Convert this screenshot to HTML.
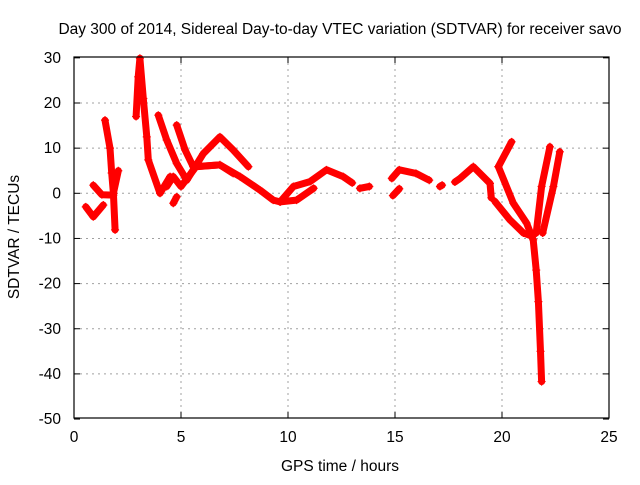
<!DOCTYPE html>
<html><head><meta charset="utf-8"><style>
body{margin:0;background:#fff}
svg text{font-family:"Liberation Sans",sans-serif;font-size:15.5px;fill:#000}
</style></head><body>
<svg id="chart" width="640" height="480">
<g id="grid"></g>
<g id="series"></g>
<rect x="74" y="57" width="535" height="361" fill="none" stroke="#000" stroke-width="1.2"/>
<g id="ticks"></g>
<text x="340" y="34" text-anchor="middle">Day 300 of 2014, Sidereal Day-to-day VTEC variation (SDTVAR) for receiver savo</text>
<text x="340" y="471" text-anchor="middle">GPS time / hours</text>
<text transform="translate(19,237) rotate(-90)" text-anchor="middle">SDTVAR / TECUs</text>
</svg>
<script>
const xTicks=[0,5,10,15,20,25];
const yTicks=[-50,-40,-30,-20,-10,0,10,20,30];
const trackA_t=[0.55,0.9,1.37];const trackA_v=[-3,-5.2,-2.6];
const trackA2_t=[0.9,1.3,1.84];const trackA2_v=[1.8,-0.3,-0.4];
const spike1_t=[1.45,1.68,1.76,1.84,1.92];const spike1_v=[16.2,10,4.5,0,-8.1];
const spike1b_t=[1.84,2.07];const spike1b_v=[0,5];
const spike2_t=[2.9,3.0,3.08,3.24,3.4,3.47,4.02,4.49];const spike2_v=[17,25.8,29.9,21,12.5,7.4,0,3.7];
const trackD_t=[3.94,4.33,4.8,5.27,6.04,6.82,7.44,8.15];const trackD_v=[17.3,11.8,6.6,2.9,8.8,12.5,9.6,5.9];
const trackE_t=[4.8,5.19,5.57,6.82,7.76,8.69,9.31,9.63,10.25,11.03,11.8,12.58,13.0];const trackE_v=[15.1,9.6,5.9,6.3,3.7,0.7,-1.5,-1.9,1.5,2.6,5.2,3.7,2.3];
const trackF_t=[4.33,4.64,5.0,5.7,6.82,7.44];const trackF_v=[1.5,3.7,1.5,5.9,6.3,4.4];
const trackG_t=[4.64,4.8];const trackG_v=[-2.2,-0.8];
const trackH_t=[9.63,10.4,11.2];const trackH_v=[-1.9,-1.5,1.1];
const small_t=[13.36,13.8];const small_v=[1.1,1.5];
const mid_t=[14.85,15.2,15.98,16.6];const mid_v=[3.3,5.2,4.4,2.9];
const mid2_t=[14.9,15.2];const mid2_v=[-0.5,1];
const dot_t=[17.1,17.2];const dot_v=[1.5,1.8];
const late_t=[17.8,18.04,18.66,19.44,19.5];const late_v=[2.5,3.3,5.9,2.2,-1];
const rise_t=[19.83,20.45];const rise_v=[5.9,11.4];
const desc_t=[19.83,20.53,21.15,21.46,21.6,21.7,21.8,21.85];const desc_v=[5.9,-2.2,-6.6,-10.3,-17,-24,-35,-41.7];
const desc2_t=[19.67,20.37,21.0,21.4];const desc2_v=[-1.8,-5.9,-8.8,-9.5];
const up1_t=[21.6,21.85,22.24];const up1_v=[-8.8,1.5,10.3];
const up2_t=[21.9,22.4,22.7];const up2_v=[-8.8,1.5,9.2];
const groups=[[trackA_t,trackA_v],[trackA2_t,trackA2_v],[spike1_t,spike1_v],[spike1b_t,spike1b_v],[spike2_t,spike2_v],[trackD_t,trackD_v],[trackE_t,trackE_v],[trackF_t,trackF_v],[trackG_t,trackG_v],[trackH_t,trackH_v],[small_t,small_v],[mid_t,mid_v],[mid2_t,mid2_v],[dot_t,dot_v],[late_t,late_v],[rise_t,rise_v],[desc_t,desc_v],[desc2_t,desc2_v],[up1_t,up1_v],[up2_t,up2_v]];
const X=t=>74+t*21.4, Y=v=>193.3-v*4.515;
const NS="http://www.w3.org/2000/svg";
const grid=document.getElementById('grid'),ticks=document.getElementById('ticks'),ser=document.getElementById('series');
function mk(tag,attrs,parent){const e=document.createElementNS(NS,tag);for(const k in attrs)e.setAttribute(k,attrs[k]);parent.appendChild(e);return e;}
xTicks.forEach(t=>{const x=X(t);
 if(t>0&&t<25){const g=mk('line',{x1:x,x2:x,y1:57,y2:418,stroke:'#a0a0a0','stroke-dasharray':'2,4'},grid);}
 const a=mk('line',{x1:x,x2:x,y1:418,y2:412,stroke:'#000'},ticks);
 const b=mk('line',{x1:x,x2:x,y1:57,y2:63,stroke:'#000'},ticks);
 const l=mk('text',{x:x,y:442,'text-anchor':'middle'},ticks);l.textContent=t;});
yTicks.forEach(v=>{const y=Y(v);
 if(v>-50&&v<30){const g=mk('line',{x1:74,x2:609,y1:y,y2:y,stroke:'#a0a0a0','stroke-dasharray':'2,4'},grid);}
 const a=mk('line',{x1:74,x2:80,y1:y,y2:y,stroke:'#000'},ticks);
 const b=mk('line',{x1:603,x2:609,y1:y,y2:y,stroke:'#000'},ticks);
 const l=mk('text',{x:61,y:y+5,'text-anchor':'end'},ticks);l.textContent=v;});
groups.forEach(([ts,vs])=>{
 const d=ts.map((t,i)=>(i?'L':'M')+X(t).toFixed(1)+','+Y(vs[i]).toFixed(1)).join('');
 const p=mk('path',{d:d,fill:'none',stroke:'#ff0000','stroke-width':7,'stroke-linejoin':'round','stroke-linecap':'round'},ser);
 
 ts.forEach((t,i)=>{const x=X(t),y=Y(vs[i]);
  const m=mk('path',{d:`M${x-4},${y}h8M${x},${y-4}v8`,stroke:'#ff0000','stroke-width':1.2},ser);
  });
});
</script>
</body></html>
